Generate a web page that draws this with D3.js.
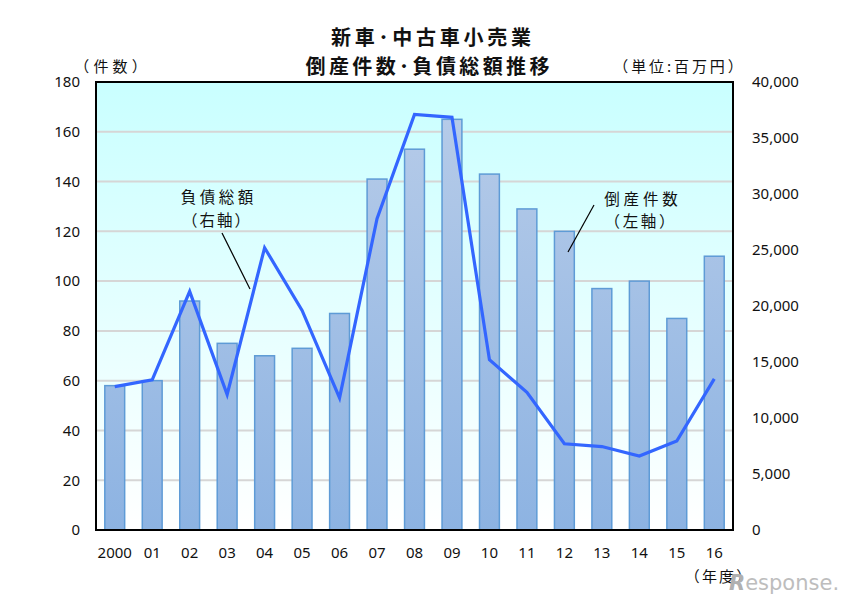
<!DOCTYPE html>
<html>
<head>
<meta charset="utf-8">
<script src="https://cdn.jsdelivr.net/npm/d3@7"></script>
<style>
  body { margin: 0; background: #fff; }
  text { font-family: "Noto Sans", "Noto Sans CJK JP", sans-serif; fill: #111; }
  .jp { font-family: "Noto Sans CJK JP", sans-serif; }
</style>
</head>
<body>
<div id="chart"></div>
<script>
// chart data
const years = ['2000', '01', '02', '03', '04', '05', '06', '07', '08', '09', '10', '11', '12', '13', '14', '15', '16'];
const bankruptcies = [58, 60, 92, 75, 70, 73, 87, 141, 153, 165, 143, 129, 120, 97, 100, 85, 110];
const debtTotal = [12800, 13400, 21300, 12100, 25200, 19600, 11800, 27800, 37100, 36850, 15200, 12300, 7700, 7450, 6600, 7950, 13500];
const leftTicks = [0, 20, 40, 60, 80, 100, 120, 140, 160, 180];
const rightTicks = [0, 5000, 10000, 15000, 20000, 25000, 30000, 35000, 40000];

// plot box
const plotLeft = 96, plotRight = 733, plotTop = 82, plotBottom = 530;

const svg = d3.select('#chart')
  .append('svg')
  .attr('width', 842)
  .attr('height', 603);

const defs = svg.append('defs');

const bg = defs.append('linearGradient')
  .attr('id', 'bg')
  .attr('x1', 0).attr('y1', 0).attr('x2', 0).attr('y2', 1);
bg.append('stop').attr('offset', '0%').attr('stop-color', '#c9ffff');
bg.append('stop').attr('offset', '100%').attr('stop-color', '#ffffff');

const barFill = defs.append('linearGradient')
  .attr('id', 'barFill')
  .attr('gradientUnits', 'userSpaceOnUse')
  .attr('x1', 0).attr('y1', plotTop).attr('x2', 0).attr('y2', plotBottom);
barFill.append('stop').attr('offset', '0%').attr('stop-color', '#b9cde9');
barFill.append('stop').attr('offset', '100%').attr('stop-color', '#8db3e2');

// scales
const x = d3.scaleBand()
  .domain(years)
  .range([plotLeft, plotRight])
  .paddingInner(0.47)
  .paddingOuter(0.235);

const yLeft = d3.scaleLinear()
  .domain([0, 180])
  .range([plotBottom, plotTop]);

const yRight = d3.scaleLinear()
  .domain([0, 40000])
  .range([plotBottom, plotTop]);

// background
svg.append('rect')
  .attr('x', plotLeft)
  .attr('y', plotTop)
  .attr('width', plotRight - plotLeft)
  .attr('height', plotBottom - plotTop)
  .attr('fill', 'url(#bg)');

// gridlines
svg.append('g')
  .selectAll('line')
  .data(leftTicks.slice(1, -1))
  .enter()
  .append('line')
  .attr('x1', plotLeft)
  .attr('x2', plotRight)
  .attr('y1', d => yLeft(d))
  .attr('y2', d => yLeft(d))
  .attr('stroke', '#d6d6d6')
  .attr('stroke-width', 2);

// bars
svg.selectAll('.bar')
  .data(years)
  .enter()
  .append('rect')
  .attr('class', 'bar')
  .attr('x', d => x(d))
  .attr('width', x.bandwidth())
  .attr('y', (d, i) => yLeft(bankruptcies[i]))
  .attr('height', (d, i) => plotBottom - yLeft(bankruptcies[i]))
  .attr('fill', 'url(#barFill)')
  .attr('stroke', '#5e9bd6')
  .attr('stroke-width', 1.5);

// debt line
const line = d3.line()
  .x((d, i) => x(years[i]) + x.bandwidth() / 2)
  .y(d => yRight(d));

svg.append('path')
  .datum(debtTotal)
  .attr('d', line)
  .attr('fill', 'none')
  .attr('stroke', '#3366ff')
  .attr('stroke-width', 3.2)
  .attr('stroke-linejoin', 'miter');

// frame
svg.append('rect')
  .attr('x', plotLeft)
  .attr('y', plotTop)
  .attr('width', plotRight - plotLeft)
  .attr('height', plotBottom - plotTop)
  .attr('fill', 'none')
  .attr('stroke', '#000')
  .attr('stroke-width', 2);

// axes
const axisL = svg.append('g')
  .attr('transform', `translate(${plotLeft},0)`)
  .call(d3.axisLeft(yLeft).tickValues(leftTicks).tickSize(0).tickPadding(16));

const axisR = svg.append('g')
  .attr('transform', `translate(${plotRight},0)`)
  .call(d3.axisRight(yRight).tickValues(rightTicks).tickFormat(d3.format(',')).tickSize(0).tickPadding(19));

const axisB = svg.append('g')
  .attr('transform', `translate(0,${plotBottom})`)
  .call(d3.axisBottom(x).tickSize(0).tickPadding(17));

[axisL, axisR, axisB].forEach(g => {
  g.select('.domain').remove();
  g.selectAll('text')
    .style('font-family', '"Noto Sans", sans-serif')
    .style('font-size', '15px')
    .style('fill', '#111');
});

// japanese labels: measure, then spread the letters so the ink covers
// the width seen in the picture (full-width brackets carry ~0.55em of blank side)
function label(txt, cx, y, size, inkLen, bold) {
  const padL = txt.startsWith('（') ? 0.55 * size : 0.05 * size;
  const padR = txt.endsWith('）') ? 0.55 * size : 0.05 * size;
  const len = inkLen + padL + padR;
  const t = svg.append('text')
    .attr('class', 'jp')
    .attr('x', cx - inkLen / 2 - padL)
    .attr('y', y)
    .style('font-size', size + 'px')
    .style('font-weight', bold ? 'bold' : 'normal')
    .text(txt);
  const w = t.node().getComputedTextLength();
  const n = Array.from(txt).length;
  t.style('letter-spacing', ((len - w) / (n - 1)) + 'px');
}

// titles
label('新車･中古車小売業', 431, 44.5, 20, 198, true);
label('倒産件数･負債総額推移', 427.5, 74, 20, 242, true);

label('（件数）', 110.5, 72, 15, 56);
label('（単位:百万円）', 678, 72, 15, 113);
label('（年度）', 718, 582, 15, 50);

// annotations
label('負債総額', 217, 203, 15.5, 71);
label('（右軸）', 216, 225.5, 15.5, 51);

svg.append('line')
  .attr('x1', 222).attr('y1', 233)
  .attr('x2', 250).attr('y2', 289)
  .attr('stroke', '#000')
  .attr('stroke-width', 1.2);

label('倒産件数', 641, 205, 15.5, 72);
label('（左軸）', 639.5, 227, 15.5, 53);

svg.append('line')
  .attr('x1', 594).attr('y1', 205)
  .attr('x2', 568).attr('y2', 252)
  .attr('stroke', '#000')
  .attr('stroke-width', 1.2);

// watermark
const mark = svg.append('text')
  .attr('x', 729)
  .attr('y', 590)
  .style('font-family', '"DejaVu Sans", sans-serif')
  .style('font-size', '21px')
  .style('fill', '#bdbdbd');
mark.append('tspan')
  .style('font-style', 'italic')
  .style('font-weight', 'bold')
  .style('fill', '#b0b0b0')
  .text('R');
mark.append('tspan')
  .text('esponse.');
</script>
</body>
</html>
